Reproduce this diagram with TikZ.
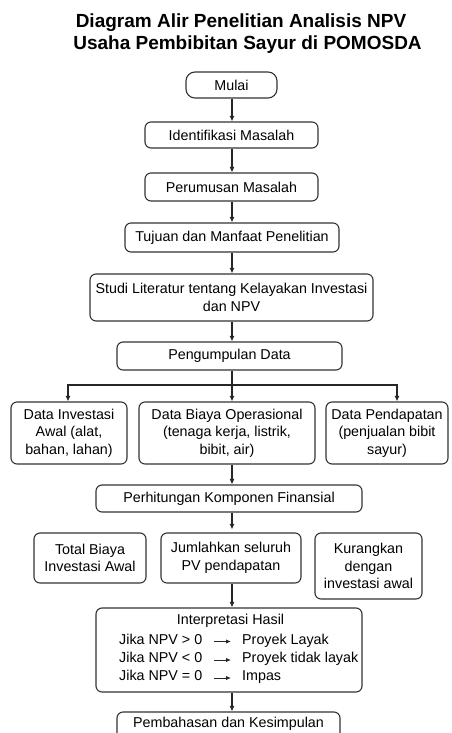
\documentclass[tikz,border=0pt]{standalone}
\usepackage{fontspec}
\setmainfont{Liberation Sans}
\usetikzlibrary{arrows.meta}
\begin{document}
\begin{tikzpicture}[x=1pt,y=-1pt,
  box/.style={draw=black!80, line width=1.1pt, rounded corners=6pt, align=center,
    inner sep=0pt, font=\fontsize{14.3}{17.5}\selectfont},
  txt/.style={inner sep=0pt, font=\fontsize{14.3}{17.5}\selectfont},
  arr/.style={draw=black!85, line width=1.1pt, -{Latex[length=5.5pt,width=5pt]}},
  tarr/.style={draw=black!85, line width=1pt, -{Latex[length=5pt,width=4.5pt]}},
  ttl/.style={inner sep=0pt, font=\fontsize{19}{22}\selectfont\bfseries}]
\useasboundingbox (0,0) rectangle (451,733);
\clip (0,0) rectangle (451,733);
% title
\node[ttl, anchor=base] (t1) at (241,27.5) {Diagram Alir Penelitian Analisis NPV};
\node[ttl, anchor=base] (t2) at (247.5,50) {Usaha Pembibitan Sayur di POMOSDA};
% main column
\node[box, rounded corners=9pt, minimum width=91, minimum height=26] (mulai) at (231.5,85) {Mulai};
\node[box, minimum width=173, minimum height=26] (ident) at (231.5,135) {Identifikasi Masalah};
\node[box, minimum width=173, minimum height=28] (perum) at (231.5,187) {Perumusan Masalah};
\node[box, minimum width=214, minimum height=29] (tujuan) at (232,237.5) {Tujuan dan Manfaat Penelitian};
\node[box, minimum width=283, minimum height=47] (studi) at (231.5,297.5) {Studi Literatur tentang Kelayakan Investasi\\dan NPV};
\node[box, minimum width=225, minimum height=28] (pengum) at (229.5,356) {Pengumpulan Data};
% data row
\node[box, minimum width=116, minimum height=62] (inv) at (69,433) {Data Investasi\\Awal (alat,\\bahan, lahan)};
\node[box, minimum width=176, minimum height=62] (biaya) at (227,433) {Data Biaya Operasional\\(tenaga kerja, listrik,\\bibit, air)};
\node[box, minimum width=122, minimum height=62] (pend) at (387,433) {Data Pendapatan\\(penjualan bibit\\sayur)};
\node[box, minimum width=266, minimum height=27] (perhit) at (229,498.5) {Perhitungan Komponen Finansial};
% calc row
\node[box, minimum width=112, minimum height=50] (total) at (90,558) {Total Biaya\\Investasi Awal};
\node[box, minimum width=140, minimum height=50] (jumlah) at (231,558) {Jumlahkan seluruh\\PV pendapatan};
\node[box, minimum width=107, minimum height=66] (kurang) at (368.5,566) {Kurangkan\\dengan\\investasi awal};
% interpretation
\node[box, minimum width=266, minimum height=84] (interp) at (229,650) {};
\node[txt, anchor=mid] (ih) at (230.5,622) {Interpretasi Hasil};
\node[txt, anchor=mid west] (c1) at (119,641.5) {Jika NPV > 0};
\node[txt, anchor=mid west] (c2) at (119,660) {Jika NPV < 0};
\node[txt, anchor=mid west] (c3) at (119,678) {Jika NPV = 0};
\node[txt, anchor=mid west] (r1) at (242,641.5) {Proyek Layak};
\node[txt, anchor=mid west] (r2) at (242,660) {Proyek tidak layak};
\node[txt, anchor=mid west] (r3) at (242,678) {Impas};
\draw[tarr] ([xshift=12pt]c1.mid east) -- ([xshift=-11pt]r1.mid west);
\draw[tarr] ([xshift=12pt]c2.mid east) -- ([xshift=-11pt]r2.mid west);
\draw[tarr] ([xshift=12pt]c3.mid east) -- ([xshift=-11pt]r3.mid west);
% final
\node[box, minimum width=223, minimum height=36] (pemb) at (228.5,730) {};
\node[txt, anchor=mid] (pembt) at (228.5,724.5) {Pembahasan dan Kesimpulan};
% connectors
\coordinate (sp) at (232,385);
\draw[arr] (mulai.south -| sp) -- (ident.north -| sp);
\draw[arr] (ident.south -| sp) -- (perum.north -| sp);
\draw[arr] (perum.south -| sp) -- (tujuan.north -| sp);
\draw[arr] (tujuan.south -| sp) -- (studi.north -| sp);
\draw[arr] (studi.south -| sp) -- (pengum.north -| sp);
\draw[draw=black!85, line width=1.1pt] (pengum.south -| sp) -- (sp);
\draw[arr] (sp) -| ([xshift=-1pt]inv.north);
\draw[arr] (sp) -- (biaya.north -| sp);
\draw[arr] (sp) -| ([xshift=10pt]pend.north);
\draw[arr] (biaya.south -| sp) -- (perhit.north -| sp);
\draw[arr, shorten >=3pt] (perhit.south -| sp) -- (jumlah.north -| sp);
\draw[arr] (jumlah.south -| sp) -- (interp.north -| sp);
\draw[arr] (interp.south -| sp) -- (pemb.north -| sp);
\end{tikzpicture}
\end{document}
